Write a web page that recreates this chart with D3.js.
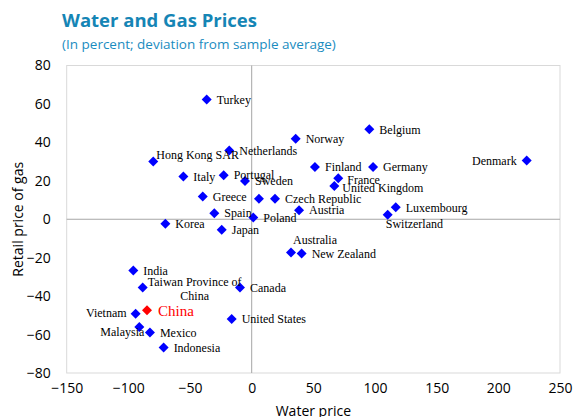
<!DOCTYPE html>
<html>
<head>
<meta charset="utf-8">
<script src="https://cdn.jsdelivr.net/npm/d3@7"></script>
<style>
  html, body { margin: 0; padding: 0; background: #fff; }
  svg { display: block; }
</style>
</head>
<body>
<svg id="chart" width="573" height="417"></svg>
<script>
// Economies and their price deviations (percent from sample average)
const countries = ["Turkey", "Netherlands", "Hong Kong SAR", "Norway", "Belgium", "Italy", "Portugal",
  "Sweden", "Greece", "Spain", "", "Czech Republic", "Austria", "Poland", "Korea", "Japan",
  "Finland", "Germany", "France", "United Kingdom", "Luxembourg", "Switzerland", "Denmark",
  "Australia", "New Zealand", "India", "Taiwan Province of China", "Canada", "China", "Vietnam",
  "United States", "Malaysia", "Mexico", "Indonesia"];
const waterPrice = [-36.5, -18.2, -79.8, 35.7, 95.4, -55.4, -22.7,
  -5.4, -39.7, -30.3, 5.9, 18.9, 38.4, 1.3, -70.0, -24.3,
  51.3, 98.4, 70.2, 67.0, 116.8, 110.3, 223.0,
  31.9, 40.5, -96.0, -88.4, -9.5, -84.9, -94.1,
  -16.2, -91.1, -82.5, -71.4];
const gasPrice = [62.3, 35.8, 30.1, 41.9, 46.8, 22.3, 22.9,
  19.9, 11.9, 3.1, 10.7, 10.7, 4.7, 0.9, -2.4, -5.5,
  27.2, 27.2, 21.3, 17.3, 6.2, 2.4, 30.6,
  -17.3, -17.8, -26.7, -35.5, -35.5, -47.4, -49.2,
  -51.9, -56.1, -58.9, -66.7];
const xTicks = [-150, -100, -50, 0, 50, 100, 150, 200, 250];
const yTicks = [-80, -60, -40, -20, 0, 20, 40, 60, 80];

// Label placement: default sits to the right of the marker
const labelPlacement = {
  "Hong Kong SAR": { dx: 3, dy: -7, anchor: "start" },
  "Denmark": { dx: -10, dy: 0, anchor: "end" },
  "Switzerland": { dx: -2, dy: 9, anchor: "start" },
  "Australia": { dx: 2, dy: -13, anchor: "start" },
  "Vietnam": { dx: -9, dy: -1, anchor: "end" },
  "Malaysia": { dx: 5, dy: 5, anchor: "end" },
  "France": { dx: 9, dy: 1, anchor: "start" },
  "United Kingdom": { dx: 8, dy: 2, anchor: "start" }
};

const svg = d3.select("#chart");
const margin = { left: 66.7, right: 13, top: 65.5, bottom: 44 };
const W = 573, H = 417;

const x = d3.scaleLinear().domain([-150, 250]).range([margin.left, W - margin.right]);
const y = d3.scaleLinear().domain([-80, 80]).range([H - margin.bottom, margin.top]);

// Title block
svg.append("text").attr("x", 62).attr("y", 27)
  .attr("font-family", "'Open Sans', sans-serif").attr("font-weight", "bold")
  .attr("font-size", 18.5).attr("fill", "#1585b5").text("Water and Gas Prices");
svg.append("text").attr("x", 62).attr("y", 49)
  .attr("font-family", "'Open Sans', sans-serif")
  .attr("font-size", 13.5).attr("fill", "#1a8cbf")
  .text("(In percent; deviation from sample average)");

// Plot frame
svg.append("rect")
  .attr("x", x(-150)).attr("y", y(80))
  .attr("width", x(250) - x(-150)).attr("height", y(-80) - y(80))
  .attr("fill", "none").attr("stroke", "#d9d9d9").attr("stroke-width", 1);

// Zero reference lines
svg.append("line").attr("x1", x(0)).attr("x2", x(0)).attr("y1", y(80)).attr("y2", y(-80))
  .attr("stroke", "#a6a6a6").attr("stroke-width", 1);
svg.append("line").attr("x1", x(-150)).attr("x2", x(250)).attr("y1", y(0)).attr("y2", y(0))
  .attr("stroke", "#a6a6a6").attr("stroke-width", 1);

// Axes (labels only, no tick marks or domain)
const xAxis = d3.axisBottom(x).tickValues(xTicks).tickSize(0).tickPadding(0).tickFormat(d3.format("d"));
const gx = svg.append("g").attr("transform", `translate(0,${H - margin.bottom + 16})`).call(xAxis);
gx.select(".domain").remove();
gx.selectAll("text").attr("font-family", "'Open Sans', sans-serif").attr("font-size", 14)
  .attr("fill", "#000").attr("dy", "0.32em").attr("y", 0);

const yAxis = d3.axisLeft(y).tickValues(yTicks).tickSize(0).tickPadding(0).tickFormat(d3.format("d"));
const gy = svg.append("g").attr("transform", `translate(${margin.left - 16},0)`).call(yAxis);
gy.select(".domain").remove();
gy.selectAll("text").attr("font-family", "'Open Sans', sans-serif").attr("font-size", 14)
  .attr("fill", "#000").attr("x", 0);

// Axis titles
svg.append("text").attr("x", (x(-150) + x(250)) / 2).attr("y", 411).attr("dy", "0.35em")
  .attr("text-anchor", "middle").attr("font-family", "'Open Sans', sans-serif")
  .attr("font-size", 14).attr("fill", "#000").text("Water price");
svg.append("text").attr("transform", `translate(18,${(y(80) + y(-80)) / 2}) rotate(-90)`)
  .attr("dy", "0.35em").attr("text-anchor", "middle").attr("font-family", "'Open Sans', sans-serif")
  .attr("font-size", 14).attr("fill", "#000").text("Retail price of gas");

// Points
const data = countries.map((name, i) => ({ name, wx: waterPrice[i], gy: gasPrice[i] }));
const diamond = "M0,-5L5,0L0,5L-5,0Z";

const pts = svg.append("g");
pts.selectAll("path").data(data).join("path")
  .attr("d", diamond)
  .attr("transform", d => `translate(${x(d.wx)},${y(d.gy)})`)
  .attr("fill", d => d.name === "China" ? "#ff0000" : "#0000ff");

// Labels
const labels = svg.append("g").attr("font-family", "'Liberation Serif', 'Times New Roman', serif");
data.filter(d => d.name && d.name !== "Taiwan Province of China").forEach(d => {
  const p = labelPlacement[d.name] || { dx: 10, dy: 0, anchor: "start" };
  const isChina = d.name === "China";
  labels.append("text")
    .attr("x", x(d.wx) + (isChina ? 11 : p.dx))
    .attr("y", y(d.gy) + p.dy)
    .attr("dy", "0.35em")
    .attr("text-anchor", p.anchor)
    .attr("font-size", isChina ? 15 : 12)
    .attr("fill", isChina ? "#ff0000" : "#000")
    .text(d.name);
});
// Two-line label for Taiwan Province of China
const tw = data.find(d => d.name === "Taiwan Province of China");
const twText = labels.append("text")
  .attr("x", x(tw.wx) + 52).attr("y", y(tw.gy) - 6)
  .attr("text-anchor", "middle").attr("font-size", 12).attr("fill", "#000");
twText.append("tspan").attr("x", x(tw.wx) + 52).attr("dy", "0.35em").text("Taiwan Province of");
twText.append("tspan").attr("x", x(tw.wx) + 52).attr("dy", "1.2em").text("China");
</script>
</body>
</html>
